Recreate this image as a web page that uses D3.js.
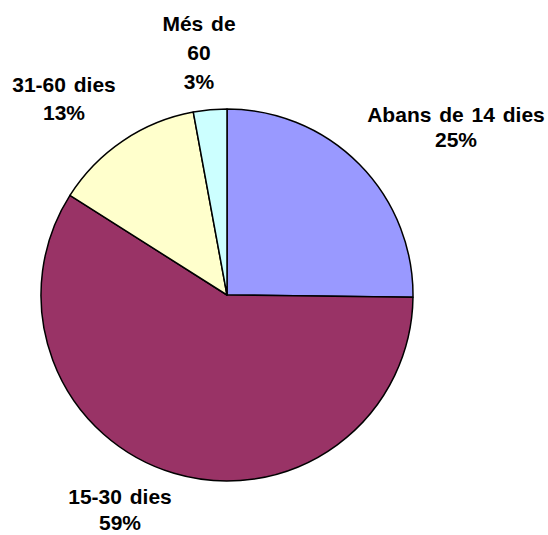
<!DOCTYPE html>
<html>
<head>
<meta charset="utf-8">
<script src="https://cdn.jsdelivr.net/npm/d3@7"></script>
<style>
  body { margin: 0; background: #fff; }
  text { font-family: "Liberation Sans", Arial, sans-serif; font-weight: bold; font-size: 21px; fill: #000; }
</style>
</head>
<body>
<svg id="svg" width="548" height="535"></svg>
<script>
const categories = ['Abans de 14 dies', '15-30 dies', '31-60 dies', 'Més de 60'];
const values = [25.2, 58.8, 13.1, 2.9];
const percentLabels = ['25%', '59%', '13%', '3%'];
const colors = ['#9999FF', '#993366', '#FFFFCC', '#CCFFFF'];

// label lines (category may wrap) and anchor positions
const labelLines = [
  ['Abans de 14 dies'],
  ['15-30 dies'],
  ['31-60 dies'],
  ['Més de', '60']
];
const labelPos = [
  { x: 456, y: 122, dy: 25 },
  { x: 120, y: 504, dy: 26 },
  { x: 64, y: 92, dy: 28 },
  { x: 199, y: 31, dy: 29 }
];

const svg = d3.select('#svg');
const cx = 227, cy = 295, r = 186;

const pie = d3.pie().sort(null).value(d => d);
const arc = d3.arc().innerRadius(0).outerRadius(r);

const g = svg.append('g').attr('transform', `translate(${cx},${cy})`);
g.selectAll('path')
  .data(pie(values))
  .enter()
  .append('path')
  .attr('d', arc)
  .attr('fill', (d, i) => colors[i])
  .attr('stroke', '#000')
  .attr('stroke-width', 1.5)
  .attr('stroke-linejoin', 'round');

categories.forEach((c, i) => {
  const lines = labelLines[i].concat([percentLabels[i]]);
  const p = labelPos[i];
  const t = svg.append('text').attr('text-anchor', 'middle').attr('word-spacing', 2);
  lines.forEach((ln, k) => {
    t.append('tspan')
      .attr('x', p.x)
      .attr('y', p.y + k * p.dy)
      .text(ln);
  });
});
</script>
</body>
</html>
